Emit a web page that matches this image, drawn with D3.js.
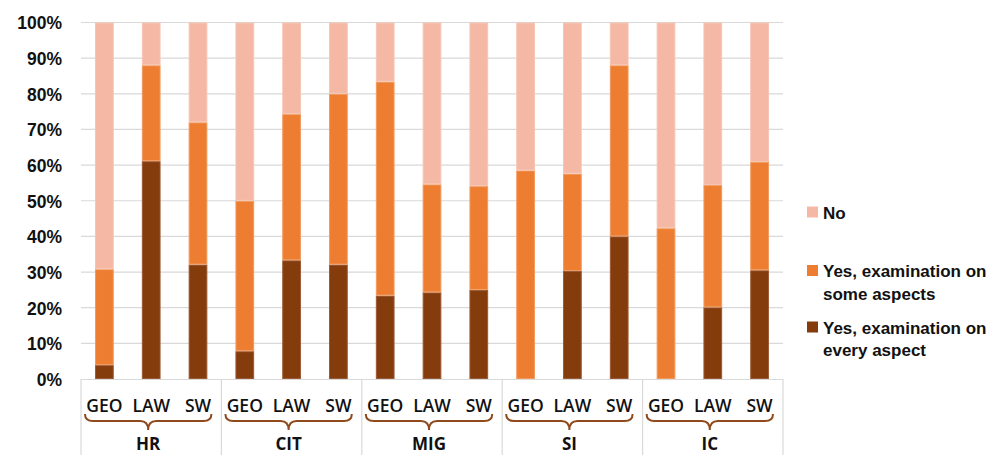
<!DOCTYPE html>
<html>
<head>
<meta charset="utf-8">
<script src="https://cdn.jsdelivr.net/npm/d3@7"></script>
<style>
  html, body { margin: 0; padding: 0; background: #fff; }
  svg { display: block; }
</style>
</head>
<body>
<svg id="chart" width="998" height="455"></svg>
<script>
// ---- data ----
const groups = ["HR", "CIT", "MIG", "SI", "IC"];
const subCategories = ["GEO", "LAW", "SW"];
const seriesNames = ["Yes, examination on every aspect", "Yes, examination on some aspects", "No"];
// values in %, order: for each group, GEO, LAW, SW
const everyAspect = [3.9, 61.1, 32.1,  7.8, 33.3, 32.1,  23.4, 24.3, 25.0,  0, 30.3, 40.0,  0, 20.1, 30.5];
const someAspects = [26.9, 26.9, 39.9, 42.2, 41.0, 47.9,  60.0, 30.3, 29.1,  58.5, 27.3, 48.0,  42.3, 34.3, 30.4];
const noExam      = [69.2, 12.0, 28.0, 50.0, 25.7, 20.0,  16.6, 45.4, 45.9,  41.5, 42.4, 12.0,  57.7, 45.6, 39.1];
const yTicks = [0, 10, 20, 30, 40, 50, 60, 70, 80, 90, 100];

const colors = ["#843C0C", "#ED7D31", "#F4B8A4"];
const strokes = ["#9A5A35", "#F29A5E", "#F6C5B4"];

// ---- build table ----
const rows = [];
groups.forEach((g, gi) => subCategories.forEach((s, si) => {
  const i = gi * subCategories.length + si;
  rows.push({ key: g + "-" + s, group: g, sub: s, every: everyAspect[i], some: someAspects[i], no: noExam[i] });
}));
const keys = ["every", "some", "no"];
const stacked = d3.stack().keys(keys)(rows);

const svg = d3.select("#chart");
const pLeft = 81, pRight = 783, pTop = 22.5, pBottom = 379;

const x = d3.scaleBand().domain(rows.map(d => d.key)).range([pLeft, pRight])
  .paddingInner(0.6).paddingOuter(0.3);
const y = d3.scaleLinear().domain([0, 100]).range([pBottom, pTop]);

// gridlines
svg.append("g").selectAll("line").data(yTicks.filter(t => t > 0)).join("line")
  .attr("x1", pLeft).attr("x2", pRight)
  .attr("y1", d => y(d)).attr("y2", d => y(d))
  .attr("stroke", "#d9d9d9").attr("stroke-width", 1.2);

// y axis labels
const yAxis = d3.axisLeft(y).tickValues(yTicks).tickFormat(d => d + "%").tickSize(0).tickPadding(0);
const yg = svg.append("g").attr("transform", `translate(62,0)`).call(yAxis);
yg.select(".domain").remove();
yg.selectAll("text")
  .attr("font-family", "'Liberation Sans', Arial, sans-serif")
  .attr("font-weight", "bold").attr("font-size", 17.5).attr("fill", "#111")
  .attr("dy", "0.36em");

// bars
svg.append("g").selectAll("g").data(stacked).join("g")
  .attr("fill", (d, i) => colors[i]).attr("stroke", (d, i) => strokes[i])
  .selectAll("rect").data(d => d.filter(p => p[1] - p[0] > 0)).join("rect")
  .attr("x", d => x(d.data.key) + 0.5)
  .attr("width", x.bandwidth() - 1)
  .attr("y", d => y(d[1]) + 0.5)
  .attr("height", d => Math.max(0, y(d[0]) - y(d[1]) - 1))
  .attr("stroke-width", 1);

// category axis: baseline + separators
svg.append("line").attr("x1", pLeft).attr("x2", pRight).attr("y1", pBottom + 0.5).attr("y2", pBottom + 0.5)
  .attr("stroke", "#d9d9d9").attr("stroke-width", 1.2);
const step = x.step();
const groupEdges = groups.map((g, gi) => x(g + "-" + subCategories[0]) - x.paddingOuter() * step);
groupEdges.push(pRight);
svg.append("g").selectAll("line").data(groupEdges).join("line")
  .attr("x1", d => d).attr("x2", d => d).attr("y1", pBottom).attr("y2", 455)
  .attr("stroke", "#d9d9d9").attr("stroke-width", 1.2);

// sub labels
svg.append("g").selectAll("text").data(rows).join("text")
  .attr("x", d => x(d.key) + x.bandwidth() / 2).attr("y", 412)
  .attr("text-anchor", "middle")
  .attr("font-family", "'Open Sans', sans-serif").attr("font-weight", 600)
  .attr("font-size", 17.5).attr("fill", "#111")
  .text(d => d.sub);

// braces
const brace = (x0, x1, yTop) => {
  const xm = (x0 + x1) / 2, h = 7, r = 8;
  return `M${x0},${yTop} Q${x0},${yTop + h} ${x0 + r},${yTop + h}` +
    ` L${xm - r},${yTop + h} Q${xm},${yTop + h} ${xm},${yTop + h + 9}` +
    ` Q${xm},${yTop + h} ${xm + r},${yTop + h}` +
    ` L${x1 - r},${yTop + h} Q${x1},${yTop + h} ${x1},${yTop}`;
};
svg.append("g").selectAll("path").data(groups).join("path")
  .attr("d", (g, gi) => {
    const x0 = groupEdges[gi] + 4, x1 = groupEdges[gi + 1] - 10;
    return brace(x0, x1, 414);
  })
  .attr("fill", "none").attr("stroke", "#8F4A1C").attr("stroke-width", 2);

// group labels
svg.append("g").selectAll("text").data(groups).join("text")
  .attr("x", (g, gi) => (groupEdges[gi] + groupEdges[gi + 1]) / 2 - 3).attr("y", 450)
  .attr("text-anchor", "middle")
  .attr("font-family", "'Open Sans', sans-serif").attr("font-weight", 700)
  .attr("font-size", 17).attr("fill", "#111")
  .text(d => d);

// legend
const legendItems = [
  { color: colors[2], lines: ["No"], y: 218.5 },
  { color: colors[1], lines: ["Yes, examination on", "some aspects"], y: 277 },
  { color: colors[0], lines: ["Yes, examination on", "every aspect"], y: 333.5 }
];
const lg = svg.append("g");
legendItems.forEach(it => {
  lg.append("rect").attr("x", 807).attr("y", it.y - 12).attr("width", 11).attr("height", 11).attr("fill", it.color);
  const t = lg.append("text").attr("x", 823).attr("y", it.y)
    .attr("font-family", "'Liberation Sans', Arial, sans-serif").attr("font-weight", "bold")
    .attr("font-size", 17).attr("fill", "#111");
  it.lines.forEach((l, li) => t.append("tspan").attr("x", 823).attr("dy", li === 0 ? 0 : 22.5).text(l));
});
</script>
</body>
</html>
